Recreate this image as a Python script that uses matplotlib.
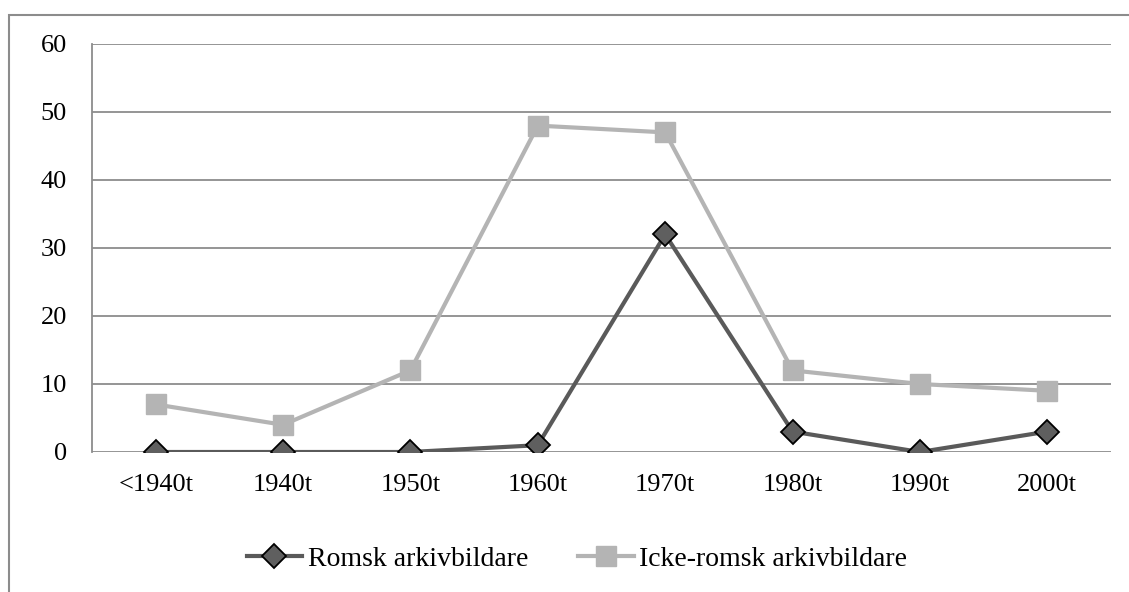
import matplotlib
matplotlib.use('Agg')
import matplotlib.pyplot as plt
import matplotlib.patches as mpatches
from matplotlib.lines import Line2D

dekader = ['<1940t', '1940t', '1950t', '1960t', '1970t', '1980t', '1990t', '2000t']
romsk = [0, 0, 0, 1, 32, 3, 0, 3]
icke_romsk = [7, 4, 12, 48, 47, 12, 10, 9]

plt.rcParams['font.family'] = ['Liberation Serif', 'DejaVu Serif']
plt.rcParams['font.size'] = 19

W, H = 1129, 592
fig = plt.figure(figsize=(W / 100, H / 100), dpi=100)
ax = fig.add_axes([92 / W, 1 - 452 / H, (1111 - 92) / W, (452 - 44) / H])

# ram runt hela diagrammet
ram = mpatches.Rectangle((9 / W, -0.1), 1.2, 1 - 15 / H + 0.1, transform=fig.transFigure,
                         fill=False, edgecolor='#8c8c8c', linewidth=1.5, clip_on=False)
fig.patches.append(ram)

x = [i + 0.5 for i in range(len(dekader))]
ax.plot(x, icke_romsk, color='#b4b4b4', linewidth=3, marker='s', markersize=14.5,
        markerfacecolor='#b4b4b4', markeredgecolor='#b4b4b4', zorder=3)
ax.plot(x, romsk, color='#5a5a5a', linewidth=3, marker='D', markersize=12,
        markerfacecolor='#5f5f5f', markeredgecolor='black', markeredgewidth=1.3, zorder=4)

ax.set_xlim(0, len(dekader))
ax.set_ylim(0, 60)
ax.set_yticks(range(0, 61, 10))
ax.set_xticks(x)
ax.set_xticklabels(dekader)
ax.yaxis.grid(True, color='#8c8c8c', linewidth=1.3)
ax.set_axisbelow(True)
for s in ['top', 'right', 'bottom']:
    ax.spines[s].set_visible(False)
ax.spines['left'].set_color('#8c8c8c')
ax.spines['left'].set_linewidth(1.3)
ax.tick_params(axis='x', length=0, pad=16)
ax.tick_params(axis='y', length=0, pad=18)

handles = [
    Line2D([], [], color='#5a5a5a', linewidth=3, marker='D', markersize=12,
           markerfacecolor='#5f5f5f', markeredgecolor='black', markeredgewidth=1.3),
    Line2D([], [], color='#b4b4b4', linewidth=3, marker='s', markersize=14.5,
           markerfacecolor='#b4b4b4', markeredgecolor='#b4b4b4'),
]
fig.legend(handles, ['Romsk arkivbildare', 'Icke-romsk arkivbildare'], loc='center',
           bbox_to_anchor=(577 / W, 1 - 559 / H), ncol=2, frameon=False, fontsize=20,
           handlelength=2.0, handletextpad=0.2, columnspacing=1.8)

fig.savefig('out.png', dpi=100)
